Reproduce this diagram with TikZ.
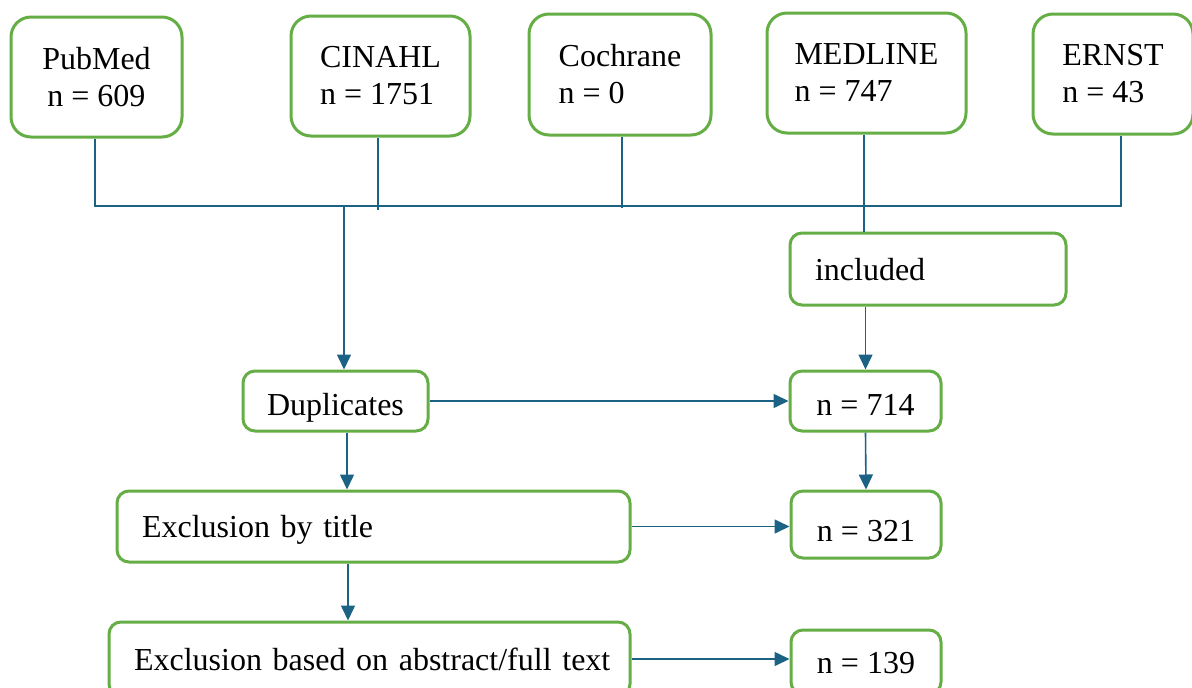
\documentclass[tikz,border=0pt]{standalone}
\usepackage{fontspec}
\setmainfont{Liberation Serif}
\usetikzlibrary{arrows.meta}
\definecolor{boxgreen}{RGB}{101,173,69}
\definecolor{linkblue}{RGB}{28,98,132}
\begin{document}
\begin{tikzpicture}[x=1pt,y=-1pt,
  every node/.style={font=\fontsize{32}{37}\selectfont},
  src/.style={draw=boxgreen, line width=3pt, rounded corners=20pt, align=left, inner sep=0pt, minimum height=120pt},
  box/.style={draw=boxgreen, line width=3pt, rounded corners=12pt, inner sep=0pt, text height=22pt, text depth=0pt},
  lbox/.style={box, align=left, inner xsep=0pt},
  link/.style={draw=linkblue, line width=1.6pt},
  arr/.style={link, -{Triangle[length=15pt,width=14pt]}}]
\useasboundingbox (0,0) rectangle (1192,688);

% source boxes
\node[src, align=center, minimum width=171pt] (pub) at (96.5,77) {PubMed\\n = 609};
\node[src, minimum width=179pt] (cin) at (380.5,76) {CINAHL\\n = 1751};
\node[src, minimum width=182pt, minimum height=121pt] (coc) at (620,74.5) {Cochrane\\n = 0};
\node[src, minimum width=199pt] (med) at (866.5,73) {MEDLINE\\n = 747};
\node[src, minimum width=160pt] (ern) at (1113,74) {ERNST\\n = 43};

% flow boxes
\node[lbox, text width=276pt, minimum height=72pt] (inc) at (928,269) {\hspace*{25pt}included};
\node[box, text height=28pt, minimum width=185pt, minimum height=60pt] (dup) at (335.5,401) {Duplicates};
\node[box, text height=28pt, minimum width=151pt, minimum height=60pt] (n714) at (865.5,401) {n = 714};
\node[lbox, text width=513pt, minimum height=71pt] (ttl) at (373.5,526.5) {\hspace*{25pt}Exclusion by title};
\node[box, text height=34pt, minimum width=150pt, minimum height=67pt] (n321) at (866,524.5) {n = 321};
\node[lbox, text width=521pt, minimum height=74pt] (abst) at (369.5,659) {\hspace*{25pt}Exclusion based on abstract/full text};
\node[box, minimum width=150pt, minimum height=64pt] (n139) at (866,662) {n = 139};

% bus connectors
\coordinate (busL) at (95,206);
\coordinate (busR) at (1121,206);
\coordinate (busD) at (344,206);
\draw[link] ([xshift=-1.5pt]pub.south) -- (busL) -- (busR) -- (busR |- ern.south);
\draw[link] ([xshift=-2.5pt]cin.south) -- ++(0,72);
\draw[link] ([xshift=2pt]coc.south) -- ++(0,71);
\draw[link] ([xshift=-2.5pt]med.south) -- ([xshift=-2.5pt]med.south |- inc.north);

% arrows
\draw[arr] (busD) -- (busD |- dup.north);
\draw[arr] (n714.north |- inc.south) -- (n714.north);
\draw[arr] (dup.east) -- (n714.west);
\draw[arr] (n714.south) -- (n321.north);
\draw[arr] ([xshift=11.5pt]dup.south) -- ([xshift=11.5pt]dup.south |- ttl.north);
\draw[arr] (ttl.east) -- (ttl.east -| n321.west);
\draw[arr] ([xshift=-25.5pt]ttl.south) -- ([xshift=-25.5pt]ttl.south |- abst.north);
\draw[arr] (abst.east) -- (abst.east -| n139.west);
\end{tikzpicture}
\end{document}
